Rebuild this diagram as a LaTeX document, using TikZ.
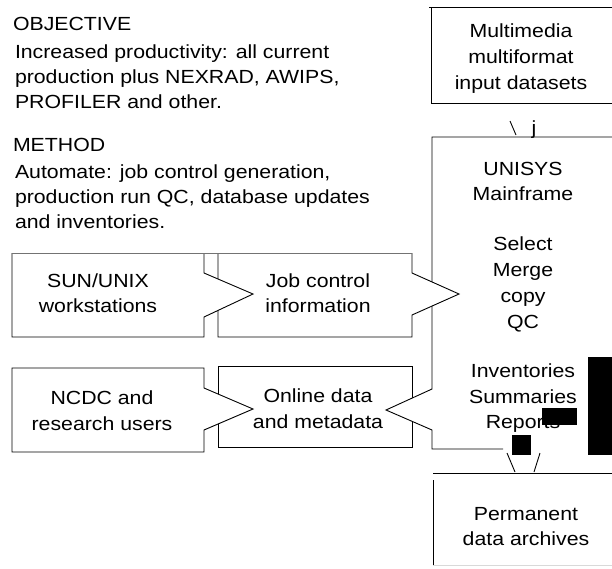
\documentclass[tikz,border=0pt]{standalone}
\usepackage{fontspec}
\setmainfont{Liberation Sans}[FakeStretch=1.12]
\begin{document}
\begin{tikzpicture}[x=1pt,y=-1pt,
  every node/.style={inner sep=0pt, outer sep=0pt, font=\fontsize{19}{25}\selectfont},
  lt/.style={anchor=base west},
  ct/.style={anchor=base},
  boxline/.style={draw=black, line width=0.9pt, fill=white, line join=miter},
  lineblk/.style={draw=black, line width=0.9pt},
  redact/.style={fill=black}]
\useasboundingbox (0,0) rectangle (612,568);

% ---- left text ----
\node[lt] (h1) at (13,30) {OBJECTIVE};
\node[lt] (o1) at (15,58) {Increased productivity: all current};
\node[lt] (o2) at (15,83) {production plus NEXRAD, AWIPS,};
\node[lt] (o3) at (15,108) {PROFILER and other.};
\node[lt] (h2) at (13,151) {METHOD};
\node[lt] (m1) at (15,178) {Automate: job control generation,};
\node[lt] (m2) at (15,203) {production run QC, database updates};
\node[lt] (m3) at (15,228) {and inventories.};

% ---- Multimedia box ----
\draw[lineblk] (429,7) -- (612,7);
\draw[lineblk] (431,7) -- (431,103) -- (612,103);
\node[ct] (mm1) at (521,37) {Multimedia};
\node[ct] (mm2) at (521,63) {multiformat};
\node[ct] (mm3) at (521,89) {input datasets};

% connector mark between Multimedia and UNISYS
\draw[lineblk] (510,121) -- (516,135);
\node[ct] (jmark) at (534,134) {j};

% ---- Online data box ----
\draw[boxline] (218,366) -- (412,366) -- (412,447) -- (218,447) -- cycle;

% ---- UNISYS mainframe ----
\fill[white] (432,389) -- (386,410) -- (432,430) -- cycle;
\draw[lineblk] (612,137) -- (432,137) -- (432,389) -- (386,410) -- (432,430) -- (432,449) -- (503,449);

% ---- NCDC box ----
\draw[boxline] (12,368) -- (204,368) -- (204,388) -- (253,409) -- (204,430) -- (204,452) -- (12,452) -- cycle;

% ---- Job control box ----
\fill[white] (218,253) -- (218,337) -- (412,337) -- (412,315) -- (459,294) -- (412,273) -- (412,253) -- cycle;
\draw[lineblk] (218,253) -- (218,337) -- (412,337) -- (412,315) -- (459,294) -- (412,273) -- (412,253);

% ---- SUN box ----
\fill[white] (12,253) -- (12,337) -- (204,337) -- (204,317) -- (253,294) -- (204,273) -- (204,253) -- cycle;
\draw[lineblk] (12,253) -- (12,337) -- (204,337) -- (204,317) -- (253,294) -- (204,273) -- (204,253);
\draw[draw=black!55, line width=1pt] (12,253) -- (412,253);

% box texts
\node[ct] (s1) at (98,287) {SUN/UNIX};
\node[ct] (s2) at (98,312) {workstations};
\node[ct] (j1) at (318,287) {Job control};
\node[ct] (j2) at (318,312) {information};
\node[ct] (n1) at (102,404) {NCDC and};
\node[ct] (n2) at (102,430) {research users};
\node[ct] (d1) at (318,402) {Online data};
\node[ct] (d2) at (318,428) {and metadata};

\node[ct] (u1) at (523,175) {UNISYS};
\node[ct] (u2) at (523,200) {Mainframe};
\node[ct] (u3) at (523,250) {Select};
\node[ct] (u4) at (523,276) {Merge};
\node[ct] (u5) at (523,302) {copy};
\node[ct] (u6) at (523,328) {QC};
\node[ct] (u7) at (523,377) {Inventories};
\node[ct] (u8) at (523,403) {Summaries};
\node[ct] (u9) at (523,428) {Reports};

% ---- connector to archives ----
\draw[lineblk] (507,453) -- (515,472);
\draw[lineblk] (540,453) -- (534,472);

% ---- Permanent archives ----
\draw[lineblk] (433,473) -- (612,473);
\draw[lineblk] (433,480) -- (433,565);
\draw[draw=black!15, line width=0.8pt] (433,565) -- (612,565);
\node[ct] (p1) at (526,520) {Permanent};
\node[ct] (p2) at (526,545) {data archives};

% ---- black blocks from the scan ----
\fill[redact] (588,357) rectangle (612,455);
\fill[redact] (542,408) rectangle (577,425);
\fill[redact] (512,435) rectangle (531,455);
\end{tikzpicture}
\end{document}
